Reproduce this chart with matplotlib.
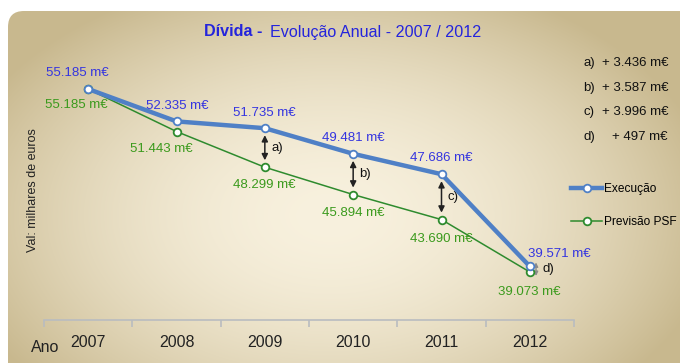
import matplotlib
matplotlib.use("Agg")
import matplotlib.pyplot as plt
import numpy as np
from matplotlib.patches import FancyBboxPatch
from matplotlib.colors import to_rgb

plt.rcParams["font.family"] = ["Liberation Sans", "DejaVu Sans"]

years = ["2007", "2008", "2009", "2010", "2011", "2012"]
execucao = [55.185, 52.335, 51.735, 49.481, 47.686, 39.571]
previsao = [55.185, 51.443, 48.299, 45.894, 43.690, 39.073]
exec_labels = ["55.185 m€", "52.335 m€", "51.735 m€", "49.481 m€", "47.686 m€", "39.571 m€"]
prev_labels = ["55.185 m€", "51.443 m€", "48.299 m€", "45.894 m€", "43.690 m€", "39.073 m€"]
diff_tags = ["a)", "b)", "c)", "d)"]
diff_values = ["+ 3.436 m€", "+ 3.587 m€", "+ 3.996 m€", "+ 497 m€"]
diff_years = [2, 3, 4, 5]

W, H = 680, 363
BLUE_LINE = "#4f80c6"
GREEN_LINE = "#2e8b2e"
BLUE_TXT = "#3434e0"
GREEN_TXT = "#3a9a1c"

fig = plt.figure(figsize=(W / 100, H / 100), dpi=100)
fig.patch.set_facecolor("white")

# background panel with radial gradient
bg = fig.add_axes([0, 0, 1, 1], zorder=0)
bg.set_xlim(0, W)
bg.set_ylim(H, 0)
bg.axis("off")
yy, xx = np.mgrid[0:H, 0:W]
t = np.sqrt(((xx - 330) / 390.0) ** 2 + ((yy - 215) / 250.0) ** 2)
t = np.clip(t, 0, 1) ** 1.8
c0 = np.array(to_rgb("#f8f1de"))
c1 = np.array(to_rgb("#c8b88e"))
img = c0 + (c1 - c0) * t[..., None]
im = bg.imshow(img, extent=(0, W, H, 0), interpolation="bilinear")
panel = FancyBboxPatch((8, 11), 720, 400, boxstyle="round,pad=0,rounding_size=16",
                       transform=bg.transData, facecolor="none", edgecolor="none")
bg.add_patch(panel)
im.set_clip_path(panel)

# title
bg.text(262, 32, "Dívida -", color="#2424dc", fontsize=11.6, fontweight="bold",
        ha="right", va="center")
bg.text(270, 32, "Evolução Anual - 2007 / 2012", color="#2424dc", fontsize=11.6,
        ha="left", va="center")

# y label and x label
bg.text(33, 190, "Val: milhares de euros", rotation=90, fontsize=9,
        ha="center", va="center", color="#222222")
bg.text(45, 347, "Ano", fontsize=11.5, ha="center", va="center", color="#222222")

# difference list on the right
for i, (tag, val) in enumerate(zip(diff_tags, diff_values)):
    ypix = 63 + i * 24.7
    bg.text(583, ypix, tag, fontsize=9.5, ha="left", va="center", color="#111111")
    bg.text(668, ypix, val, fontsize=9.5, ha="right", va="center", color="#111111")

# main axes
ax = fig.add_axes([44 / W, 1 - 320 / H, 530 / W, 280 / H], zorder=1)
ax.patch.set_alpha(0)
x = np.arange(len(years))
ax.set_xlim(-0.5, len(years) - 0.5)
ax.set_ylim(34.85, 59.5)

ax.plot(x, previsao, color=GREEN_LINE, lw=1.1, marker="o", ms=5.5,
        mfc="white", mec=GREEN_LINE, mew=1.3, label="Previsão PSF", zorder=3)
ax.plot(x, execucao, color=BLUE_LINE, lw=3.2, marker="o", ms=5.5,
        mfc="white", mec=BLUE_LINE, mew=1.3, label="Execução", zorder=4)

exec_off = [(-11, 16), (1, 15), (-1, 15), (0, 16), (0, 16), (29, 12)]
prev_off = [(-12, -16), (-15, -17), (-1, -18), (0, -18), (0, -19), (-1, -20)]
for i in range(len(years)):
    ax.annotate(exec_labels[i], (x[i], execucao[i]), xytext=exec_off[i],
                textcoords="offset pixels", ha="center", va="center",
                fontsize=9.5, color=BLUE_TXT, zorder=5)
    ax.annotate(prev_labels[i], (x[i], previsao[i]), xytext=prev_off[i],
                textcoords="offset pixels", ha="center", va="center",
                fontsize=9.5, color=GREEN_TXT, zorder=5)

for k, yi in enumerate(diff_years):
    small = yi == len(years) - 1
    xa = x[yi] + (0.07 if small else 0)
    col = "#8a8a8a" if small else "#222222"
    if small:
        ax.annotate("", xy=(xa, previsao[yi] - 0.35), xytext=(xa, execucao[yi] + 0.35),
                    arrowprops=dict(arrowstyle="<|-|>", color=col, lw=1.0,
                                    mutation_scale=6, shrinkA=0, shrinkB=0),
                    zorder=2)
    else:
        ax.annotate("", xy=(xa, previsao[yi]), xytext=(xa, execucao[yi]),
                    arrowprops=dict(arrowstyle="<|-|>", color=col, lw=1.1,
                                    mutation_scale=9, shrinkA=5, shrinkB=5),
                    zorder=2)
    ymid = (previsao[yi] + execucao[yi]) / 2
    ax.annotate(diff_tags[k], (xa, ymid), xytext=(12, 0),
                textcoords="offset pixels", ha="center", va="center",
                fontsize=9.5, color="#111111")

for s in ["top", "right", "left"]:
    ax.spines[s].set_visible(False)
ax.spines["bottom"].set_color("#b9bcc0")
ax.spines["bottom"].set_linewidth(1.2)
ax.set_yticks([])
ax.set_xticks(x)
ax.set_xticklabels(years, fontsize=11.5, color="#222222")
ax.tick_params(axis="x", which="major", length=0, pad=11)
ax.set_xticks(np.arange(-0.5, len(years)), minor=True)
ax.tick_params(axis="x", which="minor", length=5, width=1.2, color="#b9bcc0")

handles, labels = ax.get_legend_handles_labels()
leg = ax.legend(handles[::-1], labels[::-1], loc="upper left",
                bbox_to_anchor=(571 / W, 1 - 183 / H), bbox_transform=fig.transFigure,
                frameon=False, fontsize=8.6, handlelength=2.6, handletextpad=0.2,
                labelspacing=1.75, borderpad=0, borderaxespad=0)

fig.savefig("out.png", dpi=100)
